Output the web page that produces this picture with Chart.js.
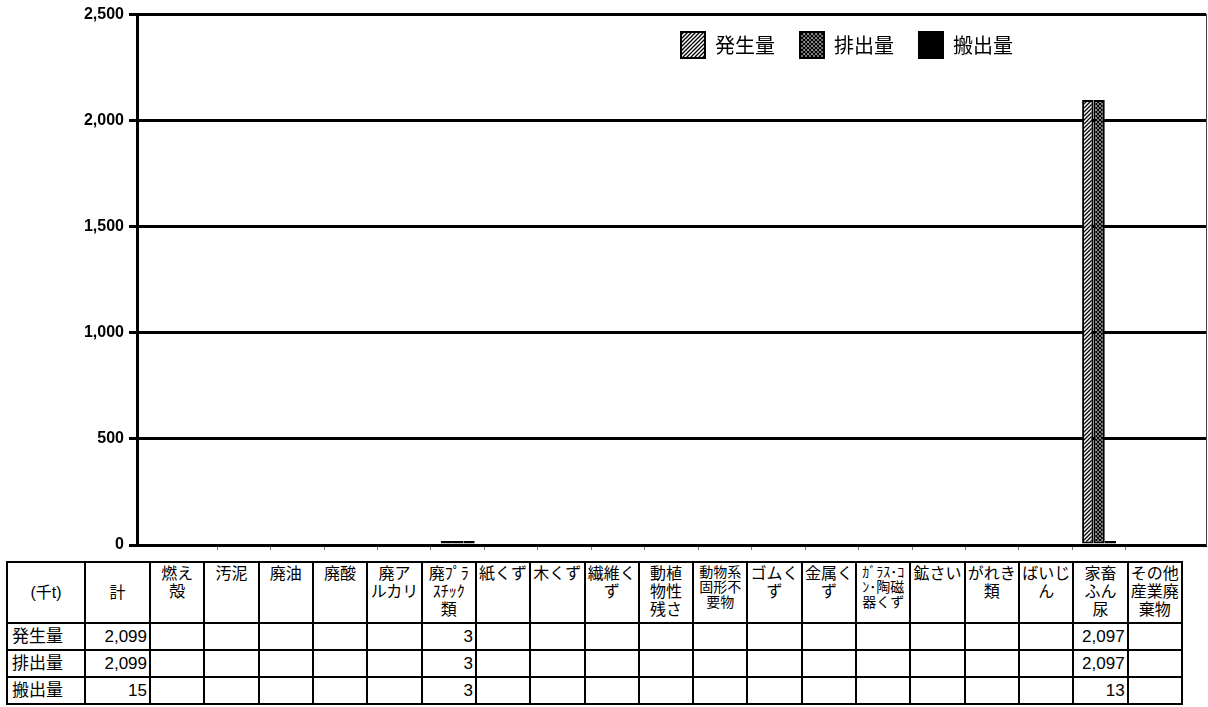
<!DOCTYPE html>
<html lang="ja">
<head>
<meta charset="utf-8">
<script src="https://cdn.jsdelivr.net/npm/chart.js@4.4.0/dist/chart.umd.min.js"></script>
<style>
  html, body { margin: 0; padding: 0; background: #fff; }
  body { width: 1208px; height: 707px; position: relative; overflow: hidden;
         font-family: 'Liberation Sans', 'Noto Sans CJK JP', sans-serif; color: #000; }
  #chartBox { position: absolute; left: 0; top: 0; width: 1208px; height: 560px; }
  #dataTable { position: absolute; left: 6px; top: 561px; width: 1177px;
               border-collapse: collapse; table-layout: fixed; }
  #dataTable td { border: 2px solid #000; padding: 0; font-size: 17px; overflow: hidden; white-space: nowrap; }
  #dataTable tr.head td { height: 57px; vertical-align: top; text-align: center;
                          font-size: 16px; line-height: 18px; padding-top: 2px; }
  #dataTable tr.head td.mid { vertical-align: middle; padding-top: 0; }
  #dataTable tr.head td.small { font-size: 14px; line-height: 15px; }
  #dataTable tr.row td { height: 25px; line-height: 25px; text-align: right; padding-right: 2px; }
  #dataTable tr.row td.name { text-align: left; padding-left: 4px; padding-right: 0; }
</style>
</head>
<body>
<div id="chartBox"><canvas id="chart"></canvas></div>
<table id="dataTable"></table>
<script>
// 産業廃棄物 種類別 発生量・排出量・搬出量 (千t)
const categories = [['計'], ['燃え', '殻'], ['汚泥'], ['廃油'], ['廃酸'], ['廃ア', 'ルカリ'],
  ['廃ﾌﾟﾗ', 'ｽﾁｯｸ', '類'], ['紙くず'], ['木くず'], ['繊維く', 'ず'], ['動植', '物性', '残さ'],
  ['動物系', '固形不', '要物'], ['ゴムく', 'ず'], ['金属く', 'ず'], ['ｶﾞﾗｽ･ｺ', 'ﾝ･陶磁', '器くず'],
  ['鉱さい'], ['がれき', '類'], ['ばいじ', 'ん'], ['家畜', 'ふん', '尿'], ['その他', '産業廃', '棄物']];
const seriesNames = ['発生量', '排出量', '搬出量'];
const generated  = [2099, null, null, null, null, null, 3, null, null, null, null, null, null, null, null, null, null, null, 2097, null];
const discharged = [2099, null, null, null, null, null, 3, null, null, null, null, null, null, null, null, null, null, null, 2097, null];
const carriedOut = [15, null, null, null, null, null, 3, null, null, null, null, null, null, null, null, null, null, null, 13, null];
const yTicks = [0, 500, 1000, 1500, 2000, 2500];
const unitLabel = '(千t)';

// header cells set in a smaller type
const smallHeads = new Set([11, 14]);

function makePattern(kind) {
  const s = 4;
  const c = document.createElement('canvas');
  c.width = s; c.height = s;
  const g = c.getContext('2d');
  g.fillStyle = '#fff';
  g.fillRect(0, 0, s, s);
  g.strokeStyle = '#000';
  g.lineWidth = kind === 'cross' ? 1.5 : 1.3;
  g.beginPath();
  g.moveTo(0, s); g.lineTo(s, 0);
  g.moveTo(-1, 1); g.lineTo(1, -1);
  g.moveTo(s - 1, s + 1); g.lineTo(s + 1, s - 1);
  if (kind === 'cross') {
    g.moveTo(0, 0); g.lineTo(s, s);
    g.moveTo(-1, s - 1); g.lineTo(1, s + 1);
    g.moveTo(s - 1, -1); g.lineTo(s + 1, 1);
  }
  g.stroke();
  return g.createPattern(c, 'repeat');
}

// the chart leaves out 計 (index 0)
const points = vals => vals.map((v, i) => ({ x: i, y: v })).slice(1);

// legend sits inside the plot, takes no layout room
const legendInside = {
  id: 'legendInside',
  afterInit(chart) {
    const lg = chart.legend;
    const fit = lg.fit.bind(lg);
    lg.fit = function () { fit(); this.height = 0; };
  },
  afterLayout(chart) {
    const lg = chart.legend;
    const w = lg.width;
    lg.left = 656;
    lg.right = lg.left + w;
    lg.top = 7;
    lg.bottom = lg.top + 70;
  }
};

const ctx = document.getElementById('chart').getContext('2d');
const chart = new Chart(ctx, {
  type: 'bar',
  data: {
    datasets: [{
      label: seriesNames[0],
      data: points(generated),
      backgroundColor: makePattern('hatch'),
      borderColor: '#000',
      borderWidth: 2
    }, {
      label: seriesNames[1],
      data: points(discharged),
      backgroundColor: makePattern('cross'),
      borderColor: '#000',
      borderWidth: 2
    }, {
      label: seriesNames[2],
      data: points(carriedOut),
      backgroundColor: '#000',
      borderColor: '#000',
      borderWidth: 2
    }]
  },
  options: {
    responsive: true,
    maintainAspectRatio: false,
    animation: false,
    layout: { padding: { left: 0, right: 2, top: 13, bottom: 10 } },
    datasets: {
      bar: { categoryPercentage: 0.636, barPercentage: 1, minBarLength: 4, borderSkipped: false }
    },
    plugins: {
      legend: {
        display: true,
        position: 'top',
        align: 'start',
        labels: {
          boxWidth: 24,
          boxHeight: 26,
          padding: 25,
          color: '#000',
          font: { family: "'Noto Sans CJK JP', sans-serif", size: 20 }
        }
      },
      tooltip: { enabled: false }
    },
    scales: {
      x: {
        type: 'linear',
        min: 0,
        max: categories.length,
        offset: false,
        ticks: { display: false },
        afterBuildTicks: scale => {
          scale.ticks = categories.slice(1, -1).map((c, i) => ({ value: i + 1.5 }));
        },
        grid: { offset: false, drawOnChartArea: false, drawTicks: true, tickLength: 5, color: '#777', lineWidth: 1 },
        border: { display: true, color: '#000', width: 3 }
      },
      y: {
        min: yTicks[0],
        max: yTicks[yTicks.length - 1],
        afterBuildTicks: scale => { scale.ticks = yTicks.map(v => ({ value: v })); },
        ticks: {
          color: '#000',
          padding: 5,
          font: { family: "'Liberation Sans', Arial, sans-serif", size: 16, weight: 'bold' }
        },
        grid: { color: '#000', lineWidth: 3, tickLength: 8 },
        border: { color: '#000', width: 3 },
        afterFit: scale => { scale.width = 137; }
      },
      yr: {
        position: 'right',
        ticks: { display: false },
        grid: { display: false, drawTicks: false },
        border: { display: true, color: '#444', width: 1 }
      }
    }
  },
  plugins: [legendInside]
});

// data table under the chart
let html = '<colgroup><col style="width:78px"><col style="width:65px">' +
  categories.slice(1).map(() => '<col>').join('') + '</colgroup>';
html += '<tr class="head"><td class="mid">' + unitLabel + '</td>' +
  categories.map((c, i) => '<td class="' + (i === 0 ? 'mid' : '') + (smallHeads.has(i) ? ' small' : '') + '">' +
    c.join('<br>') + '</td>').join('') + '</tr>';
[generated, discharged, carriedOut].forEach((vals, k) => {
  html += '<tr class="row"><td class="name">' + seriesNames[k] + '</td>' +
    vals.map(v => '<td>' + (v == null ? '' : v.toLocaleString('en-US')) + '</td>').join('') + '</tr>';
});
document.getElementById('dataTable').innerHTML = html;
</script>
</body>
</html>
